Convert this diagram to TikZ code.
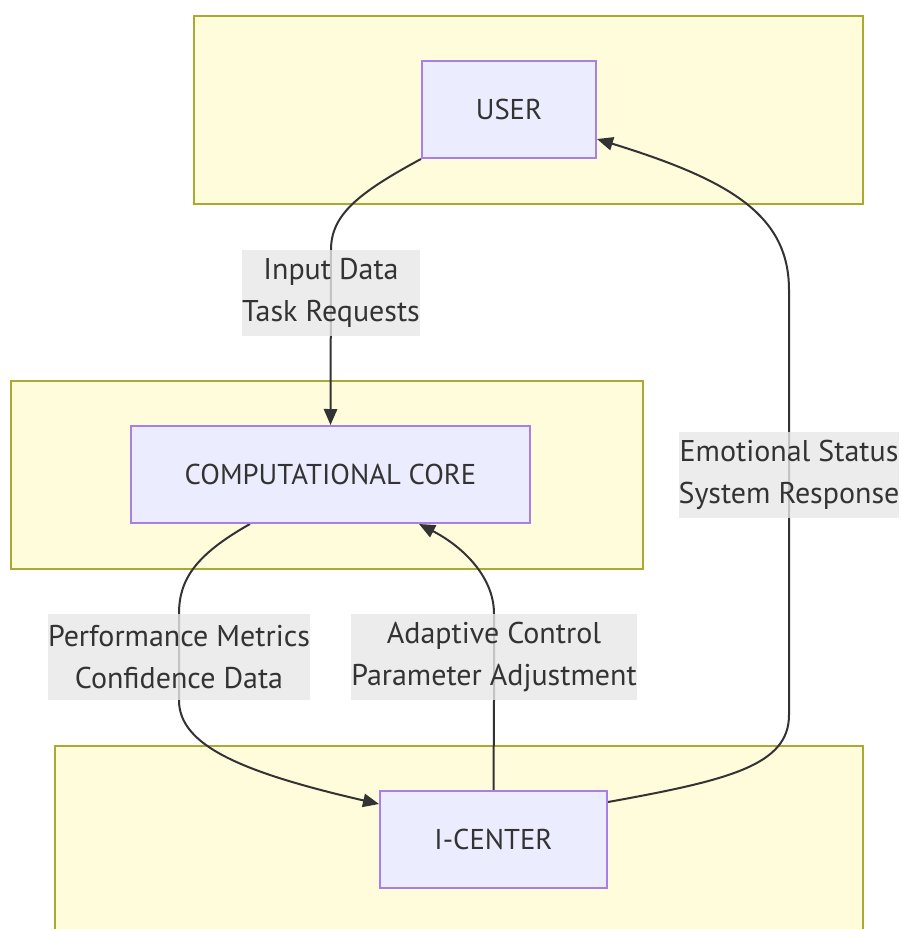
\documentclass[tikz,border=0pt]{standalone}
\usepackage{fontspec}
\setmainfont{PT Sans}
\usetikzlibrary{arrows.meta,positioning,calc}

\definecolor{lanefill}{HTML}{FFFCDC}
\definecolor{laneborder}{HTML}{AAAA33}
\definecolor{blockfill}{HTML}{ECECFF}
\definecolor{blockborder}{HTML}{A77FE6}
\definecolor{tagfill}{HTML}{E8E8E8}
\definecolor{ink}{HTML}{333333}

\pgfdeclarelayer{lanes}
\pgfdeclarelayer{flows}
\pgfsetlayers{lanes,flows,main}

\tikzset{
  lane/.style={draw=laneborder, fill=lanefill, line width=1.5pt},
  block/.style={draw=blockborder, fill=blockfill, line width=1.5pt,
    minimum height=72.75pt, text=ink, font=\fontsize{21.5}{30}\selectfont},
  tag/.style={fill=tagfill, fill opacity=0.8, text opacity=1, text=ink,
    inner xsep=0pt, minimum height=64.5pt, align=center,
    font=\fontsize{22.5}{32}\selectfont},
  flow/.style={draw=ink, line width=1.5pt, -{Triangle[length=12pt,width=10pt]}},
}

\begin{document}
\begin{tikzpicture}[x=0.75pt,y=-0.75pt]
      \clip (0,0) rectangle (901,929);

      % Lanes
      \begin{pgfonlayer}{lanes}
        \fill[white] (0,0) rectangle (901,929);
        \draw[lane] (194,16) rectangle (863,204);
        \draw[lane] (11,381) rectangle (643,569);
        \draw[lane] (55,746) rectangle (863,945);
      \end{pgfonlayer}

      % Blocks
      \node[block, minimum width=130.5pt] (user) at (509,109.5) {USER};
      \node[block, minimum width=299.25pt] (core) at (330.5,474.5) {COMPUTATIONAL CORE};
      \node[block, minimum width=170.25pt] (icenter) at (493.5,839.5) {I-CENTER};

      % Edge labels
      \node[tag] (inlab) at (331,293) {Input Data\\Task Requests};
      \node[tag] (perflab) at (179,657) {Performance Metrics\\Confidence Data};
      \node[tag] (adaptlab) at (494,657) {Adaptive Control\\Parameter Adjustment};
      \node[tag] (emolab) at (789,475) {Emotional Status\\System Response};

      % Flows, kept under the labels
      \begin{pgfonlayer}{flows}
        \draw[flow] (user.south west) .. controls (358,193) and (331,215) .. (inlab.north) -- (core.north);
        \draw[flow] ($(core.south west)+(120,0)$) .. controls (195,555) and (179,580) .. (perflab.north)
          -- (perflab.south) .. controls (179,745) and (240,772) .. ($(icenter.north west)+(0,14)$);
        \draw[flow] (icenter.north) -- (adaptlab.south) -- (adaptlab.north)
          .. controls (494,575) and (460,545) .. ($(core.south west)+(289,0)$);
        \draw[flow] ($(icenter.north east)+(0,12)$) .. controls (730,780) and (789,765) .. (789,715)
          -- (emolab.south) -- (emolab.north) -- (789,290)
          .. controls (789,215) and (730,180) .. ($(user.north east)+(0,79)$);
      \end{pgfonlayer}
\end{tikzpicture}
\end{document}
